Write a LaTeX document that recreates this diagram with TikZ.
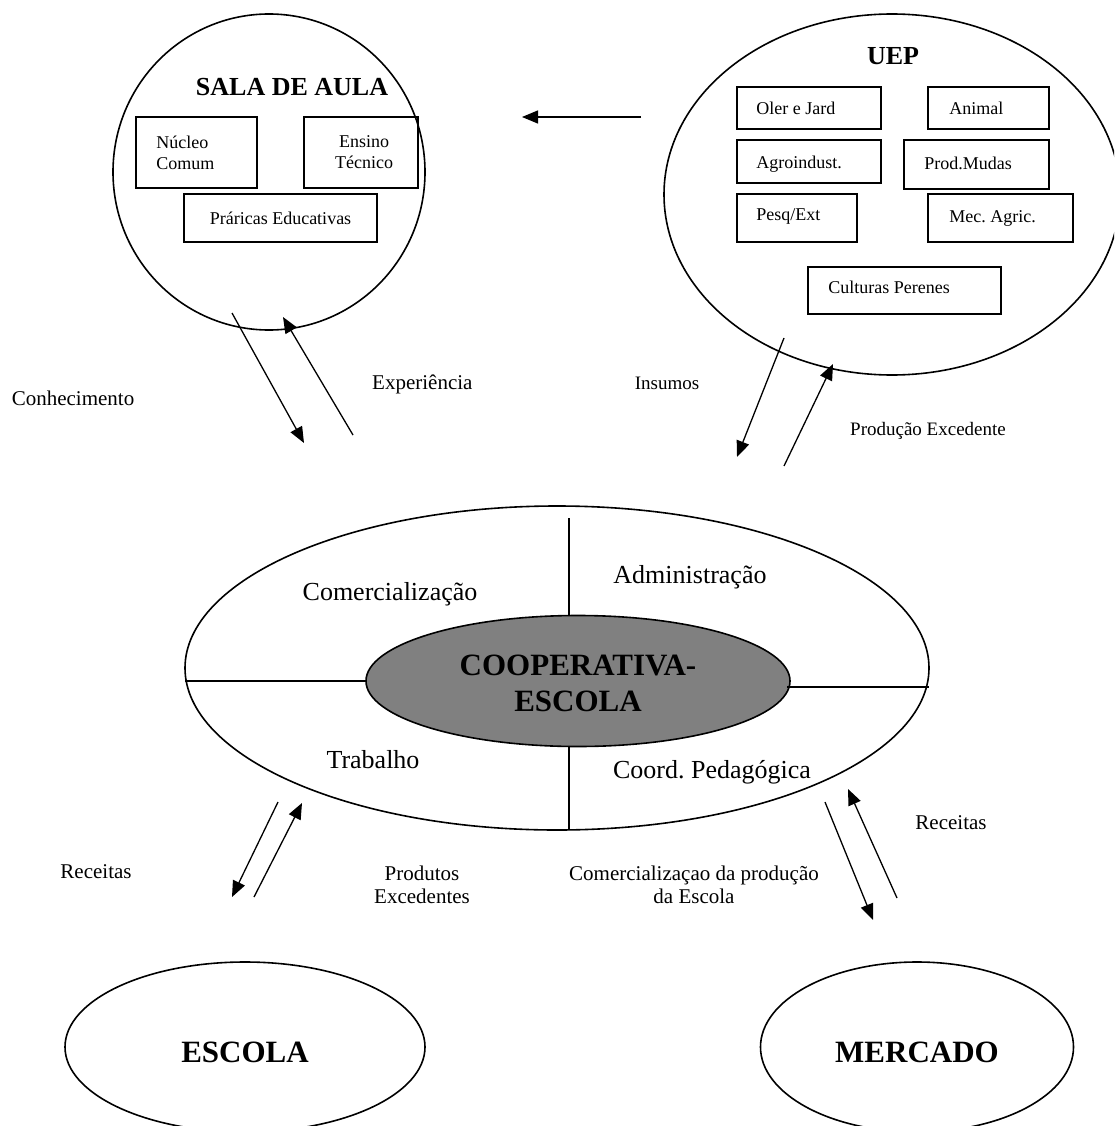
\documentclass[tikz,border=0pt]{standalone}
\usepackage{fontspec}
\setmainfont{Liberation Serif}
\usetikzlibrary{shapes.geometric,arrows.meta}
\frenchspacing
\begin{document}
\begin{tikzpicture}[x=1pt,y=-1pt,
  region/.style={draw,ellipse,line width=1.6pt,inner sep=0pt},
  unitbox/.style={draw,rectangle,line width=1.5pt,inner sep=0pt},
  boxtext/.style={inner sep=0pt,align=left,font=\fontsize{18}{21}\selectfont},
  title/.style={inner sep=0pt,font=\fontsize{26}{30}\selectfont\bfseries},
  bigtitle/.style={inner sep=0pt,align=center,font=\fontsize{31}{36}\selectfont\bfseries},
  sector/.style={inner sep=0pt,font=\fontsize{26}{30}\selectfont},
  lbl/.style={inner sep=0pt,align=center,font=\fontsize{21}{23.5}\selectfont},
  smalllbl/.style={inner sep=0pt,align=center,font=\fontsize{19}{22}\selectfont},
  flow/.style={line width=1.3pt,-{Triangle[length=16pt,width=13pt]}},
  divider/.style={line width=1.6pt}
]
\useasboundingbox (0,0) rectangle (1114,1126);
\clip (0,0) rectangle (1114,1126);
\fill[white] (0,0) rectangle (1114,1126);

% ---- Sala de aula ----
\node[region, minimum width=312pt, minimum height=316pt] (sala) at (269,172) {};
\node[title] (salaT) at (292,87) {SALA DE AULA};
\node[unitbox, minimum width=121pt, minimum height=71pt] (nucleo) at (196.5,152.5) {};
\node[boxtext, anchor=west] (nucleoT) at ([xshift=21pt]nucleo.west) {Núcleo\\Comum};
\node[unitbox, minimum width=114pt, minimum height=71pt] (ensino) at (361,152.5) {};
\node[boxtext, align=center] (ensinoT) at ([xshift=3pt]ensino.center) {Ensino\\Técnico};
\node[unitbox, minimum width=193pt, minimum height=48pt] (praticas) at (280.5,218) {};
\node[boxtext] (praticasT) at (praticas.center) {Práricas Educativas};

% ---- UEP ----
\node[region, minimum width=456pt, minimum height=361pt] (uep) at (892,194.5) {};
\node[title] (uepT) at (893,56) {UEP};
\node[unitbox, minimum width=144pt, minimum height=42pt] (oler) at (809,108) {};
\node[boxtext, anchor=west] (olerT) at ([xshift=20pt]oler.west) {Oler e Jard};
\node[unitbox, minimum width=121pt, minimum height=42pt] (animal) at (988.5,108) {};
\node[boxtext, anchor=west] (animalT) at ([xshift=22pt]animal.west) {Animal};
\node[unitbox, minimum width=144pt, minimum height=43pt] (agro) at (809,161.5) {};
\node[boxtext, anchor=west] (agroT) at ([xshift=20pt,yshift=-3pt]agro.west) {Agroindust.};
\node[unitbox, minimum width=145pt, minimum height=49pt] (mudas) at (976.5,164.5) {};
\node[boxtext, anchor=west] (mudasT) at ([xshift=21pt,yshift=1.5pt]mudas.west) {Prod.Mudas};
\node[unitbox, minimum width=120pt, minimum height=48pt] (pesq) at (797,218) {};
\node[boxtext, anchor=west] (pesqT) at ([xshift=20pt,yshift=2pt]pesq.west) {Pesq/Ext};
\node[unitbox, minimum width=145pt, minimum height=48pt] (mec) at (1000.5,218) {};
\node[boxtext, anchor=west] (mecT) at ([xshift=22pt]mec.west) {Mec. Agric.};
\node[unitbox, minimum width=193pt, minimum height=47pt] (culturas) at (904.5,290.5) {};
\node[boxtext, anchor=west] (culturasT) at ([xshift=21pt,yshift=3pt]culturas.west) {Culturas Perenes};

% flow from UEP towards the classroom
\coordinate (h1) at (641,117);
\coordinate (h2) at (522,117);
\draw[flow] (h1) -- (h2);

% ---- Cooperativa-Escola ----
\node[region, minimum width=744pt, minimum height=324pt] (big) at (557,668) {};
\node[region, fill=black!50, minimum width=424pt, minimum height=131pt] (coop) at (578,681) {};
\node[bigtitle] (coopT) at (578,683) {COOPERATIVA-\\ESCOLA};
\coordinate (vt1) at (569,518);
\coordinate (vt2) at (569,616);
\coordinate (vb1) at (569,746);
\coordinate (vb2) at (569,830);
\coordinate (hl1) at (185,681);
\coordinate (hl2) at (366,681);
\coordinate (hr1) at (787,687);
\coordinate (hr2) at (929,687);
\draw[divider] (vt1) -- (vt2);
\draw[divider] (vb1) -- (vb2);
\draw[divider] (hl1) -- (hl2);
\draw[divider] (hr1) -- (hr2);
\node[sector] (comerc) at (390,594) {Comercialização};
\node[sector] (admin) at (690,577) {Administração};
\node[sector] (trab) at (373,760) {Trabalho};
\node[sector] (coord) at (712,772) {Coord. Pedagógica};

% ---- Escola and Mercado ----
\node[region, minimum width=360pt, minimum height=170pt] (escola) at (245,1047) {};
\node[bigtitle] (escolaT) at (245,1052) {ESCOLA};
\node[region, minimum width=313pt, minimum height=170pt] (mercado) at (917,1047) {};
\node[bigtitle] (mercadoT) at (917,1052) {MERCADO};

% ---- flows ----
\coordinate (c1) at (232,313);  \coordinate (c2) at (304,443);
\coordinate (e1) at (353,435);  \coordinate (e2) at (283,317);
\coordinate (i1) at (784,338);  \coordinate (i2) at (737,457);
\coordinate (p1) at (784,466);  \coordinate (p2) at (833,364);
\coordinate (r1) at (278,802);  \coordinate (r2) at (232,897);
\coordinate (x1) at (254,897);  \coordinate (x2) at (302,803);
\coordinate (m1) at (825,802);  \coordinate (m2) at (873,920);
\coordinate (q1) at (897,898);  \coordinate (q2) at (848,789);
\draw[flow] (c1) -- (c2);
\draw[flow] (e1) -- (e2);
\draw[flow] (i1) -- (i2);
\draw[flow] (p1) -- (p2);
\draw[flow] (r1) -- (r2);
\draw[flow] (x1) -- (x2);
\draw[flow] (m1) -- (m2);
\draw[flow] (q1) -- (q2);

% ---- flow labels ----
\node[lbl] (conh) at (73,398) {Conhecimento};
\node[lbl, anchor=west] (exp) at (372,384) {Experiência};
\node[smalllbl] (ins) at (667,383) {Insumos};
\node[smalllbl] (prodex) at (928,431) {Produção Excedente};
\node[lbl] (recL) at (96,872) {Receitas};
\node[lbl] (prodL) at (422,885) {Produtos\\Excedentes};
\node[lbl] (comL) at (694,885) {Comercializaçao da produção\\da Escola};
\node[lbl] (recR) at (951,823) {Receitas};
\end{tikzpicture}
\end{document}
